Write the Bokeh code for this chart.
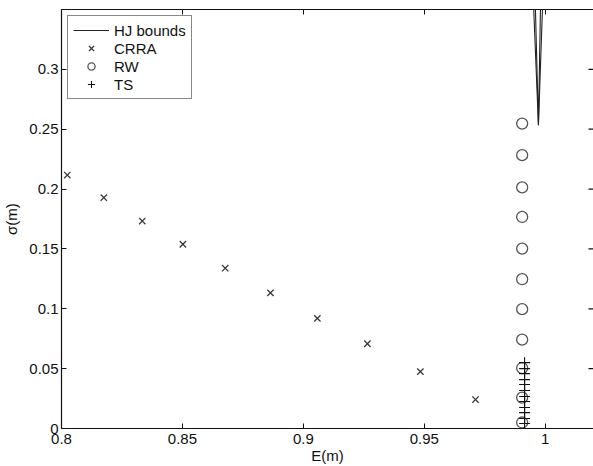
import numpy as np
from bokeh.plotting import figure
from bokeh.models import Range1d, FixedTicker, LinearAxis, Legend
from bokeh.embed import file_html
from bokeh.resources import INLINE

# ---- data ----
crra_E = [0.8024, 0.8175, 0.8334, 0.8502, 0.8677, 0.8864, 0.9058, 0.9265, 0.9484, 0.9712]
crra_s = [0.2117, 0.1928, 0.1733, 0.1539, 0.1339, 0.1133, 0.0920, 0.0708, 0.0475, 0.0242]

rw_E = [0.9905] * 11
rw_s = [0.2547, 0.2283, 0.2014, 0.1767, 0.1503, 0.1247, 0.0997, 0.0742, 0.0505, 0.0258, 0.0050]

ts_E = [0.9915] * 12
ts_s = [0.0550, 0.0500, 0.0458, 0.0408, 0.0367, 0.0317, 0.0267, 0.0225, 0.0175, 0.0133, 0.0083, 0.0042]

hj_outer_E = [0.99528, 0.99723, 0.99888]
hj_outer_s = [0.35, 0.2533, 0.35]
hj_inner_E = [0.99599, 0.99723, 0.99806]
hj_inner_s = [0.35, 0.2533, 0.35]

x_ticks = [0.8, 0.85, 0.9, 0.95, 1.0]
x_tick_labels = ["0.8", "0.85", "0.9", "0.95", "1"]
y_ticks = [0, 0.05, 0.1, 0.15, 0.2, 0.25, 0.3]
y_tick_labels = ["0", "0.05", "0.1", "0.15", "0.2", "0.25", "0.3"]
x_lim = (0.8, 1.02)
y_lim = (0, 0.35)

FONT = "Liberation Sans"

p = figure(width=593, height=466, output_backend="svg", toolbar_location=None,
           x_range=Range1d(*x_lim), y_range=Range1d(*y_lim),
           min_border_left=54, min_border_right=0, min_border_top=9, min_border_bottom=0,
           x_axis_label="E(m)", y_axis_label="σ(m)")
p.grid.visible = False
p.outline_line_color = None
p.background_fill_color = "white"
p.border_fill_color = "white"

hj = p.multi_line([hj_outer_E, hj_inner_E], [hj_outer_s, hj_inner_s],
                  line_color="#222222", line_width=1.1)
crra = p.scatter(crra_E, crra_s, marker="x", size=9, line_color="#3a3a3a", line_width=1.3)
rw = p.scatter(rw_E, rw_s, marker="circle", size=11, fill_color=None,
               line_color="#555555", line_width=1.3)
ts = p.scatter(ts_E, ts_s, marker="cross", size=11, line_color="#111111", line_width=1.1)

# right-hand tick marks (box style), pointing inward from the right frame edge
p.ray(x=[x_lim[1]] * len(y_ticks), y=y_ticks, length=5, length_units="screen",
      angle=np.pi, line_color="#111111", line_width=1.2)

def style_axis(ax, ticks, labels=None):
    ax.ticker = FixedTicker(ticks=ticks)
    ax.minor_tick_line_color = None
    ax.major_tick_in = 5
    ax.major_tick_out = 0
    ax.axis_line_color = "#111111"
    ax.major_tick_line_color = "#111111"
    ax.axis_line_width = 1.2
    ax.major_label_text_font = FONT
    ax.major_label_text_font_size = "15px"
    ax.major_label_text_color = "#111111"
    ax.axis_label_text_font = FONT
    ax.axis_label_text_font_size = "15px"
    ax.axis_label_text_font_style = "normal"
    ax.axis_label_text_color = "#111111"
    if labels is not None:
        ax.major_label_overrides = {t: l for t, l in zip(ticks, labels)}

xa = p.xaxis[0]
style_axis(xa, x_ticks, x_tick_labels)
xa.major_label_standoff = 5
xa.axis_label_standoff = 0

ya = p.yaxis[0]
style_axis(ya, y_ticks, y_tick_labels)
ya.major_label_standoff = 3
ya.axis_label_standoff = 6

top = LinearAxis()
style_axis(top, x_ticks)
top.major_label_text_font_size = "0px"
top.major_label_standoff = 0
top.major_label_overrides = {t: "" for t in x_ticks}
p.add_layout(top, "above")

legend = Legend(items=[("HJ bounds", [hj]), ("CRRA", [crra]), ("RW", [rw]), ("TS", [ts])],
                location="top_left")
legend.margin = 6
legend.padding = 5
legend.spacing = 0
legend.label_height = 18
legend.glyph_height = 18
legend.glyph_width = 36
legend.label_standoff = 5
legend.label_text_font = FONT
legend.label_text_font_size = "15px"
legend.label_text_color = "#111111"
legend.border_line_color = "#111111"
legend.border_line_width = 1.2
legend.background_fill_alpha = 1.0
p.add_layout(legend, "center")

open("out.html", "w").write(file_html(p, INLINE))
